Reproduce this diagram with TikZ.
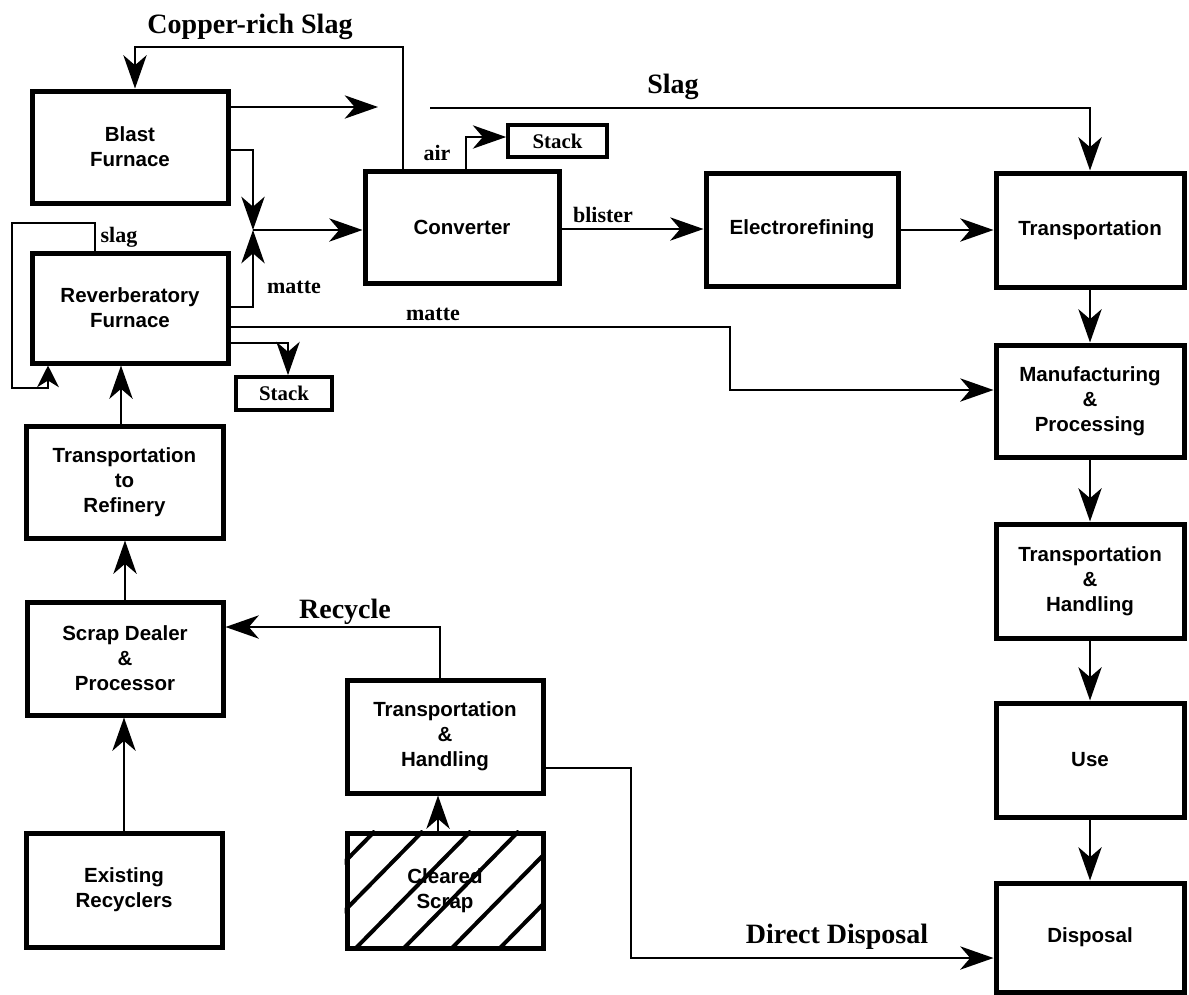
\documentclass[tikz,border=0pt]{standalone}
\usepackage{fontspec}
\setmainfont{Liberation Serif}
\newfontfamily\boxfont{Liberation Sans}
\usetikzlibrary{arrows.meta}
\begin{document}
\begin{tikzpicture}[x=0.6pt,y=-0.6pt,
  box/.style={draw, line width=3pt, align=center, inner sep=0pt,
    font=\boxfont\bfseries\fontsize{12.3}{15}\selectfont},
  stackbox/.style={draw, line width=2.2pt, inner sep=0pt,
    font=\bfseries\fontsize{12.5}{14}\selectfont},
  sz/.style n args={2}{minimum width={#1*0.6pt}, minimum height={#2*0.6pt}},
  flow/.style={line width=1.2pt, line join=miter, -{Stealth[length=20pt,width=14pt,inset=6pt]}},
  shortflow/.style={line width=1.2pt, line join=miter, -{Stealth[length=13pt,width=13pt,inset=4pt]}},
  biglabel/.style={font=\bfseries\fontsize{16.8}{18}\selectfont, anchor=base, inner sep=0pt},
  smalllabel/.style={font=\bfseries\fontsize{13.2}{15}\selectfont, anchor=base, inner sep=0pt},
  hatch/.style={line width=2.4pt}]
\useasboundingbox (0,0) rectangle (1189,994);

% ---- boxes ----
\node[box, sz={196}{112}] (blast)  at (130,147)   {Blast\\Furnace};
\node[box, sz={196}{110}] (reverb) at (130,308)   {Reverberatory\\Furnace};
\node[stackbox, sz={96}{33}] (stackL) at (284,393.5) {Stack};
\node[box, sz={197}{112}] (t2r)    at (124.5,482) {Transportation\\to\\Refinery};
\node[box, sz={196}{113}] (scrap)  at (125,658.5) {Scrap Dealer\\\&\\Processor};
\node[box, sz={196}{114}] (exist)  at (124,890)   {Existing\\Recyclers};
\node[box, sz={196}{113}] (thL)    at (445,736.5) {Transportation\\\&\\Handling};
\node[box, sz={196}{115}] (cleared) at (445,890.5) {Cleared\\Scrap};
\node[box, sz={194}{112}] (conv)   at (462,227)   {Converter};
\node[stackbox, sz={99}{32}] (stackU) at (557.5,141) {Stack};
\node[box, sz={192}{113}] (elec)   at (802,229.5) {Electrorefining};
\node[box, sz={188}{114}] (trans)  at (1090,230)  {Transportation};
\node[box, sz={188}{112}] (manuf)  at (1090,401)  {Manufacturing\\\&\\Processing};
\node[box, sz={188}{114}] (thR)    at (1090,581)  {Transportation\\\&\\Handling};
\node[box, sz={188}{114}] (use)    at (1090,760)  {Use};
\node[box, sz={188}{109}] (disp)   at (1090,937.5) {Disposal};

% hatching of Cleared Scrap
\begin{scope}
  \clip (cleared.south west) rectangle (cleared.north east);
  \foreach \j in {-3,...,6} {
    \draw[hatch] ({258+48*\j},950) -- ({258+48*\j+117},831);
  }
\end{scope}

% ---- coordinates ----
\coordinate (cA) at (403,47);
\coordinate (cB) at (135,47);
\coordinate (bEnd) at (378,107);
\coordinate (sS) at (430,108);
\coordinate (sC) at (1090,108);
\coordinate (jn) at (253,230);
\coordinate (b1) at (253,150);
\coordinate (r1) at (253,307);
\coordinate (l1) at (95,223);
\coordinate (l2) at (12,223);
\coordinate (l3) at (12,388);
\coordinate (l4) at (48,388);
\coordinate (m1) at (730,327);
\coordinate (m2) at (730,390);
\coordinate (s1) at (288,343);
\coordinate (a1) at (121,400);
\coordinate (cs) at (438,810);
\coordinate (rc) at (440,627);
\coordinate (d1) at (631,768);
\coordinate (d2) at (631,958);
\coordinate (ai) at (466,137);
\coordinate (bl) at (600,229);
\coordinate (tr) at (950,230);

% ---- connectors ----
\draw[flow] (conv.north -| cA) -- (cA) -- (cB) -- (blast.north -| cB);
\draw[flow] (blast.east |- bEnd) -- (bEnd);
\draw[flow] (sS) -- (sC) -- (trans.north -| sC);
\draw[flow] (blast.east |- b1) -- (b1) -- (jn);
\draw[flow] (reverb.east |- r1) -- (r1) -- (jn);
\draw[flow] (jn) -- (conv.west |- jn);
\draw[shortflow] (reverb.north -| l1) -- (l1) -- (l2) -- (l3) -- (l4) -- (reverb.south -| l4);
\draw[flow] (reverb.east |- m1) -- (m1) -- (m2) -- (manuf.west |- m2);
\draw[flow] (reverb.east |- s1) -- (s1) -- (stackL.north -| s1);
\draw[flow] (t2r.north -| a1) -- (reverb.south -| a1);
\draw[flow] (scrap.north) -- (t2r.south -| scrap.north);
\draw[flow] (exist.north) -- (scrap.south -| exist.north);
\draw[flow] (cleared.north -| cs) -- (thL.south -| cs);
\draw[flow] (thL.north -| rc) -- (rc) -- (scrap.east |- rc);
\draw[flow] (thL.east |- d1) -- (d1) -- (d2) -- (disp.west |- d2);
\draw[flow] (conv.north -| ai) -- (ai) -- (stackU.west |- ai);
\draw[flow] (conv.east |- bl) -- (elec.west |- bl);
\draw[flow] (elec.east |- tr) -- (trans.west |- tr);
\draw[flow] (trans.south) -- (manuf.north);
\draw[flow] (manuf.south) -- (thR.north);
\draw[flow] (thR.south) -- (use.north);
\draw[flow] (use.south) -- (disp.north);

% ---- labels ----
\node[biglabel] (lcrs) at (250,33) {Copper-rich Slag};
\node[biglabel] (lslag) at (673,93) {Slag};
\node[biglabel] (lrec) at (345,618) {Recycle};
\node[biglabel] (ldd) at (837,943) {Direct Disposal};
\node[smalllabel] (lmatte1) at (294,293) {matte};
\node[smalllabel] (lslag2) at (119,242) {slag};
\node[smalllabel] (lmatte2) at (433,320) {matte};
\node[smalllabel] (lair) at (437,160) {air};
\node[smalllabel] (lbl) at (603,222) {blister};
\end{tikzpicture}
\end{document}
